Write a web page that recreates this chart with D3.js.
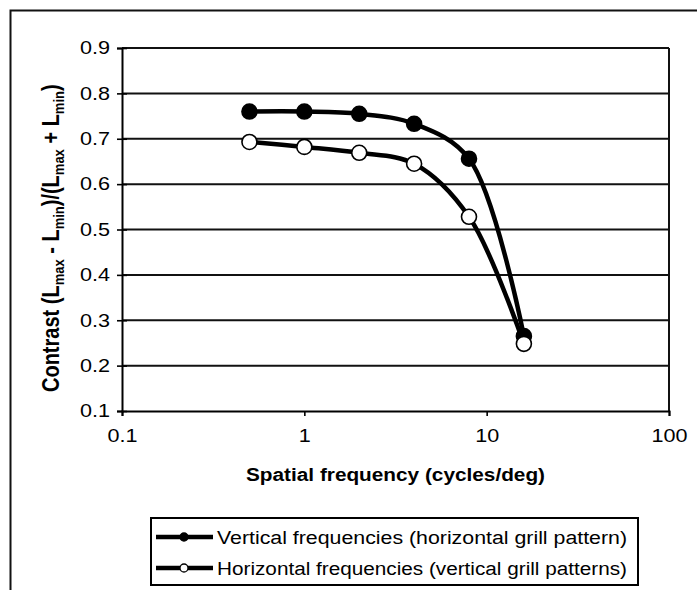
<!DOCTYPE html>
<html>
<head>
<meta charset="utf-8">
<script src="https://cdn.jsdelivr.net/npm/d3@7"></script>
<style>
  body { margin: 0; background: #fff; }
  svg { font-family: Arial, "Liberation Sans", sans-serif; }
</style>
</head>
<body>
<script>
const freqs = [0.5, 1, 2, 4, 8, 16]
const verticalFreq = [0.76, 0.76, 0.755, 0.733, 0.656, 0.265]
const horizontalFreq = [0.693, 0.682, 0.669, 0.645, 0.528, 0.248]
const xTicks = [0.1, 1, 10, 100]
const yTicks = [0.1, 0.2, 0.3, 0.4, 0.5, 0.6, 0.7, 0.8, 0.9]
const seriesNames = [
  'Vertical frequencies (horizontal grill pattern)',
  'Horizontal frequencies (vertical grill patterns)',
]

const width = 697
const height = 590
const plot = { left: 122, right: 669, top: 48, bottom: 411 }
const stretch = 1.2 // the scan is a little wider than tall

const svg = d3.select('body').append('svg')
  .attr('width', width)
  .attr('height', height)

// outer frame
svg.append('path')
  .attr('d', `M10.5,${height + 5}V10.5H${width + 5}`)
  .attr('fill', 'none')
  .attr('stroke', '#111')
  .attr('stroke-width', 2)

const x = d3.scaleLog().domain([0.1, 100]).range([plot.left, plot.right])
const y = d3.scaleLinear().domain([0.1, 0.9]).range([plot.bottom, plot.top])

// gridlines
svg.append('g')
  .selectAll('line')
  .data(yTicks.slice(1))
  .enter()
  .append('line')
  .attr('x1', plot.left)
  .attr('x2', plot.right)
  .attr('y1', (d) => y(d))
  .attr('y2', (d) => y(d))
  .attr('stroke', '#111')
  .attr('stroke-width', 2)

// right border of plot
svg.append('line')
  .attr('x1', plot.right).attr('x2', plot.right)
  .attr('y1', plot.top).attr('y2', plot.bottom)
  .attr('stroke', '#111').attr('stroke-width', 2)

// y axis
const yAxis = svg.append('g')
  .attr('transform', `translate(${plot.left},0)`)
  .call(d3.axisLeft(y).tickValues(yTicks).tickFormat(d3.format('.1f')).tickSize(5).tickPadding(5))
yAxis.select('.domain').attr('stroke-width', 2)
yAxis.selectAll('.tick line').attr('x2', 5).attr('x1', -5).attr('stroke-width', 1.6)
yAxis.selectAll('text')
  .attr('font-size', 18).attr('fill', '#000')
  .attr('transform', `scale(${stretch},1)`)

// x axis
const xAxis = svg.append('g')
  .attr('transform', `translate(0,${plot.bottom})`)
  .call(d3.axisBottom(x).tickValues(xTicks).tickFormat((d) => String(d)).tickSize(5).tickPadding(13))
xAxis.select('.domain').attr('stroke-width', 2)
xAxis.selectAll('.tick line').attr('stroke-width', 1.6)
xAxis.selectAll('text')
  .attr('font-size', 18).attr('fill', '#000')
  .attr('transform', `scale(${stretch},1)`)

// axis titles
svg.append('text')
  .attr('x', (plot.left + plot.right) / 2)
  .attr('y', 481)
  .attr('text-anchor', 'middle')
  .attr('font-size', 18)
  .attr('font-weight', 'bold')
  .attr('textLength', 299)
  .attr('lengthAdjust', 'spacingAndGlyphs')
  .text('Spatial frequency (cycles/deg)')

const yTitle = svg.append('text')
  .attr('transform', 'translate(59,392) rotate(-90) scale(1,1.15)')
  .attr('text-anchor', 'start')
  .attr('font-size', 20)
  .attr('font-weight', 'bold')
const parts = [
  ['Contrast (L', 0], ['max', 1], [' - L', 0], ['min', 1],
  [')/(L', 0], ['max', 1], [' + L', 0], ['min', 1], [')', 0],
]
parts.forEach(([t, sub], i) => {
  const ts = yTitle.append('tspan').text(t)
  if (sub) ts.attr('font-size', 13).attr('dy', 4)
  else if (i > 0) ts.attr('dy', -4)
})

const line = d3.line()
  .x((d) => x(d[0]))
  .y((d) => y(d[1]))
  .curve(d3.curveCatmullRom.alpha(0.5))

const series = [
  { values: verticalFreq, fill: '#000' },
  { values: horizontalFreq, fill: '#fff' },
]

series.forEach((s) => {
  const pts = freqs.map((f, i) => [f, s.values[i]])
  svg.append('path')
    .attr('d', line(pts))
    .attr('fill', 'none')
    .attr('stroke', '#000')
    .attr('stroke-width', 4.5)
})

series.forEach((s) => {
  svg.append('g')
    .selectAll('circle')
    .data(freqs.map((f, i) => [f, s.values[i]]))
    .enter()
    .append('circle')
    .attr('cx', (d) => x(d[0]))
    .attr('cy', (d) => y(d[1]))
    .attr('r', 7.5)
    .attr('fill', s.fill)
    .attr('stroke', '#000')
    .attr('stroke-width', 1.6)
})

// legend
const legend = svg.append('g')
legend.append('rect')
  .attr('x', 151).attr('y', 518)
  .attr('width', 487).attr('height', 67)
  .attr('fill', '#fff')
  .attr('stroke', '#000')
  .attr('stroke-width', 2)

const legendLengths = [410, 410]
seriesNames.forEach((name, i) => {
  const cy = 537 + i * 31
  legend.append('line')
    .attr('x1', 156).attr('x2', 213)
    .attr('y1', cy).attr('y2', cy)
    .attr('stroke', '#000').attr('stroke-width', 4.5)
  legend.append('circle')
    .attr('cx', 184).attr('cy', cy).attr('r', 4)
    .attr('fill', series[i].fill)
    .attr('stroke', '#000').attr('stroke-width', 1.3)
  legend.append('text')
    .attr('x', 217).attr('y', cy + 7)
    .attr('font-size', 18)
    .attr('textLength', legendLengths[i])
    .attr('lengthAdjust', 'spacingAndGlyphs')
    .text(name)
})
</script>
</body>
</html>
